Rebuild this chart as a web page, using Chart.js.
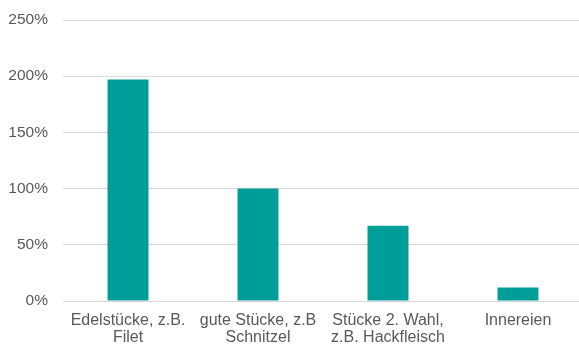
<!DOCTYPE html>
<html>
<head>
<meta charset="utf-8">
<script src="https://cdn.jsdelivr.net/npm/chart.js@4"></script>
<style>
  html, body { margin: 0; padding: 0; background: #fff; overflow: hidden; }
  #wrap { width: 583px; height: 344px; }
</style>
</head>
<body>
<div id="wrap"><canvas id="grafico"></canvas></div>
<script>
const kategorien = [
    ["Edelstücke, z.B.", "Filet"],
    ["gute Stücke, z.B", "Schnitzel"],
    ["Stücke 2. Wahl,", "z.B. Hackfleisch"],
    ["Innereien"]
];
const werte = [197, 100, 67, 12];
const yTicks = [0, 50, 100, 150, 200, 250];

const ctx = document.getElementById('grafico').getContext('2d');

new Chart(ctx, {
    type: 'bar',
    data: {
        labels: kategorien,
        datasets: [{
            data: werte,
            backgroundColor: '#009E99',
            borderWidth: 0,
            barPercentage: 0.315,
            categoryPercentage: 1
        }]
    },
    options: {
        responsive: true,
        maintainAspectRatio: false,
        animation: false,
        layout: { padding: { top: 20, right: 0, left: 0, bottom: 0 } },
        plugins: {
            legend: { display: false },
            tooltip: { enabled: false }
        },
        scales: {
            x: {
                grid: { display: false, drawTicks: false },
                border: { display: true, color: '#d9d9d9', width: 1 },
                ticks: {
                    color: '#595959',
                    font: { family: 'Liberation Sans, Arial', size: 16, lineHeight: 1.06 },
                    padding: 11,
                    maxRotation: 0,
                    autoSkip: false
                },
                afterFit: axis => { axis.height = 43; }
            },
            y: {
                min: 0,
                max: 250,
                afterBuildTicks: axis => { axis.ticks = yTicks.map(v => ({ value: v })); },
                grid: { color: '#d9d9d9', drawTicks: false, lineWidth: 1 },
                border: { display: false },
                ticks: {
                    color: '#595959',
                    font: { family: 'Liberation Sans, Arial', size: 15.5, lineHeight: 0.8 },
                    padding: 15,
                    callback: v => v + '%'
                },
                afterFit: axis => {
                    axis.width = 63;
                    axis.paddingTop = 0;
                    axis.paddingBottom = 0;
                }
            }
        }
    }
});
</script>
</body>
</html>
